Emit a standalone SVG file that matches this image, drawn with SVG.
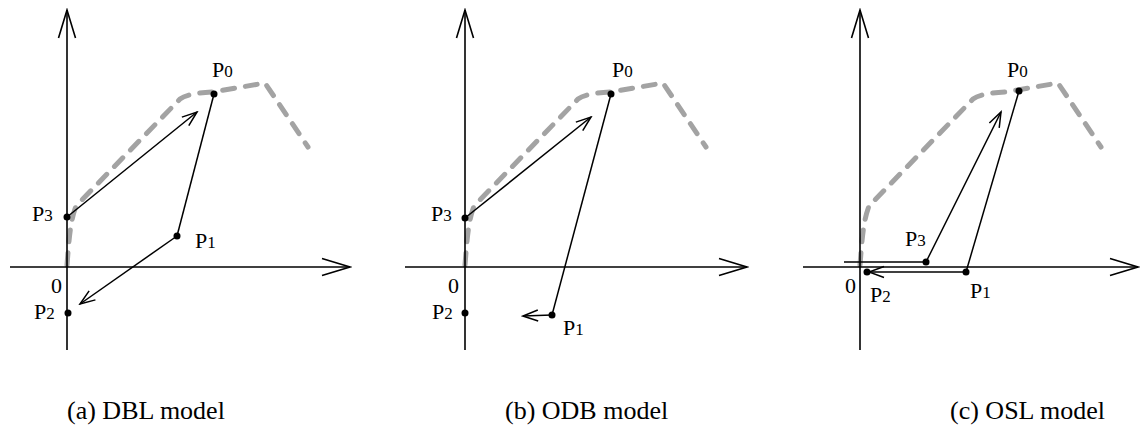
<svg xmlns="http://www.w3.org/2000/svg" xmlns:xlink="http://www.w3.org/1999/xlink" width="1140" height="425" viewBox="0 0 1140 425">
<style>
.ax{stroke:#000;stroke-width:1.6;fill:none;marker-end:url(#big)}
.ln{stroke:#000;stroke-width:1.5;fill:none}
.ar{stroke:#000;stroke-width:1.5;fill:none;marker-end:url(#small)}
.cv{stroke:#a3a3a3;stroke-width:5;fill:none;stroke-dasharray:12 11;stroke-linecap:round;stroke-linejoin:round}
.dot{fill:#000}
text{font-family:"Liberation Serif","Times New Roman","DejaVu Serif",serif;fill:#000}
.lb{font-size:22px}
.sb{font-size:17px}
.cap{font-size:26px}
</style>
<defs>
<marker id="big" markerUnits="userSpaceOnUse" viewBox="-30 -10 32 20" markerWidth="32" markerHeight="20" refX="0" refY="0" orient="auto"><path d="M-28,-8.5 L0,0 L-28,8.5" fill="none" stroke="#000" stroke-width="1.6"/></marker>
<marker id="small" markerUnits="userSpaceOnUse" viewBox="-18 -8 20 16" markerWidth="20" markerHeight="16" refX="0" refY="0" orient="auto"><path d="M-15,-5.5 L0,0 L-15,5.5" fill="none" stroke="#000" stroke-width="1.5"/></marker>
<path id="curve" d="M67,265 C69,240 70,222 76,206 L180,99 Q188,93 213,92 L265,83 L308,147"/>
</defs>

<g id="panel-a">
<use xlink:href="#curve" href="#curve" class="cv"/>
<line class="ax" x1="67" y1="350" x2="67" y2="10"/>
<line class="ax" x1="10" y1="267" x2="350" y2="267"/>
<g id="connectors-a">
<line class="ln" x1="214" y1="94" x2="177" y2="236"/>
<line class="ar" x1="177" y1="236" x2="80" y2="304"/>
<line class="ar" x1="67" y1="217" x2="197" y2="112"/>
</g>
<g id="a-P0"><circle class="dot" cx="214" cy="94" r="3.5"/><text class="lb" x="212" y="77">P<tspan class="sb">0</tspan></text></g>
<g id="a-P1"><circle class="dot" cx="177" cy="236" r="3.5"/><text class="lb" x="195" y="248">P<tspan class="sb">1</tspan></text></g>
<g id="a-P2"><circle class="dot" cx="68" cy="313" r="3.5"/><text class="lb" x="34" y="319">P<tspan class="sb">2</tspan></text></g>
<g id="a-P3"><circle class="dot" cx="67" cy="217" r="3.5"/><text class="lb" x="32" y="221">P<tspan class="sb">3</tspan></text></g>
<text class="lb" x="51" y="293">0</text>
<text class="cap" x="67" y="419">(a) DBL model</text>
</g>

<g id="panel-b">
<use xlink:href="#curve" href="#curve" class="cv" transform="translate(398,0)"/>
<line class="ax" x1="465" y1="350" x2="465" y2="10"/>
<line class="ax" x1="405" y1="267" x2="747" y2="267"/>
<g id="connectors-b">
<line class="ln" x1="611" y1="94" x2="552" y2="315"/>
<line class="ar" x1="552" y1="315" x2="523" y2="316"/>
<line class="ar" x1="465" y1="218" x2="591" y2="117"/>
</g>
<g id="b-P0"><circle class="dot" cx="611" cy="94" r="3.5"/><text class="lb" x="612" y="77">P<tspan class="sb">0</tspan></text></g>
<g id="b-P1"><circle class="dot" cx="552" cy="315" r="3.5"/><text class="lb" x="563" y="335">P<tspan class="sb">1</tspan></text></g>
<g id="b-P2"><circle class="dot" cx="465" cy="313" r="3.5"/><text class="lb" x="432" y="319">P<tspan class="sb">2</tspan></text></g>
<g id="b-P3"><circle class="dot" cx="465" cy="218" r="3.5"/><text class="lb" x="431" y="221">P<tspan class="sb">3</tspan></text></g>
<text class="lb" x="448" y="293">0</text>
<text class="cap" x="505" y="419">(b) ODB model</text>
</g>

<g id="panel-c">
<use xlink:href="#curve" href="#curve" class="cv" transform="translate(793,0)"/>
<line class="ax" x1="860" y1="350" x2="860" y2="10"/>
<line class="ax" x1="803" y1="267" x2="1138" y2="267"/>
<g id="connectors-c">
<line class="ln" x1="1019" y1="91" x2="966" y2="272"/>
<line class="ar" x1="966" y1="272" x2="869" y2="272"/>
<line class="ln" x1="926" y1="262" x2="844" y2="262"/>
<line class="ar" x1="926" y1="262" x2="1001" y2="112"/>
</g>
<g id="c-P0"><circle class="dot" cx="1019" cy="91" r="3.5"/><text class="lb" x="1007" y="77">P<tspan class="sb">0</tspan></text></g>
<g id="c-P1"><circle class="dot" cx="966" cy="272" r="3.5"/><text class="lb" x="970" y="298">P<tspan class="sb">1</tspan></text></g>
<g id="c-P2"><circle class="dot" cx="867" cy="272" r="3.5"/><text class="lb" x="870" y="302">P<tspan class="sb">2</tspan></text></g>
<g id="c-P3"><circle class="dot" cx="926" cy="262" r="3.5"/><text class="lb" x="905" y="246">P<tspan class="sb">3</tspan></text></g>
<text class="lb" x="845" y="293">0</text>
<text class="cap" x="950" y="419">(c) OSL model</text>
</g>
</svg>
